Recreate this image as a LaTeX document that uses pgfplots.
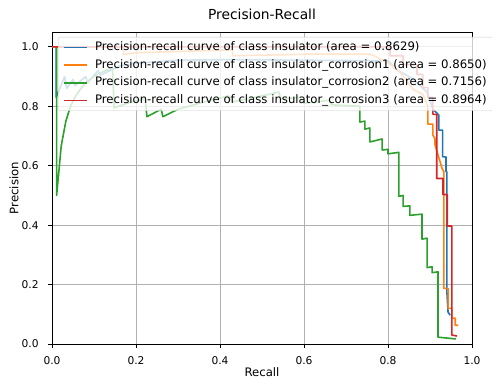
\documentclass[border=0pt]{standalone}
\usepackage{pgfplots}
\pgfplotsset{compat=1.18}
\usepackage{fontspec}
\setmainfont{DejaVu Sans}
\definecolor{mblue}{HTML}{1F77B4}
\definecolor{morange}{HTML}{FF7F0E}
\definecolor{mgreen}{HTML}{2CA02C}
\definecolor{mred}{HTML}{D62728}
\definecolor{mgrid}{HTML}{B0B0B0}
\definecolor{mframe}{HTML}{CCCCCC}
\begin{document}
\begin{tikzpicture}
\begin{axis}[
  set layers,
  scale only axis, width=420pt, height=312pt,
  xmin=0, xmax=1, ymin=0, ymax=1.05,
  xtick={0,0.2,0.4,0.6,0.8,1.0}, ytick={0,0.2,0.4,0.6,0.8,1.0},
  xticklabels={0.0,0.2,0.4,0.6,0.8,1.0}, yticklabels={0.0,0.2,0.4,0.6,0.8,1.0},
  scaled ticks=false,
  tick align=outside, tick pos=left, major tick length=3.7pt,
  every tick/.style={black, line width=0.8pt},
  axis line style={line width=0.8pt},
  grid=major, major grid style={mgrid, line width=0.8pt},
  ticklabel style={font=\fontsize{10.67}{12.8}\selectfont},
  xticklabel style={inner sep=0pt, anchor=center, yshift=-13pt},
  yticklabel style={inner sep=0pt, anchor=east, xshift=-9.5pt},
  title={Precision-Recall},
  title style={font=\fontsize{13.8}{16}\selectfont, at={(axis description cs:0.5,1)}, anchor=center, yshift=12pt, inner sep=0pt},
  xlabel={Recall},
  xlabel style={font=\fontsize{11.7}{14}\selectfont, at={(axis description cs:0.5,0)}, anchor=center, yshift=-28pt, inner sep=0pt},
  ylabel={Precision},
  ylabel style={font=\fontsize{11.7}{14}\selectfont, at={(axis description cs:-0.0905,0.5)}, anchor=center, inner sep=0pt},
  legend cell align=left,
  legend image code/.code={\draw[#1] (0pt,0pt) -- (23.5pt,0pt);},
  legend style={at={(axis description cs:0,1)}, anchor=north west, xshift=6pt, yshift=-5pt,
    fill=white, fill opacity=0.8, text opacity=1, draw=mframe, rounded corners=2pt,
    font=\fontsize{11.7}{14}\selectfont, row sep=6.7pt, inner xsep=4.7pt, inner ysep=4.7pt,
    nodes={text height=8.5pt, text depth=2.5pt, inner ysep=0pt},
    /tikz/every odd column/.append style={column sep=5pt}},
]
\addplot[mblue, line width=1.6pt, line join=round] coordinates {
(0.01,1.0)(0.01,0.83)(0.03,0.90)(0.035,0.86)(0.05,0.89)(0.055,0.87)(0.08,0.90)(0.085,0.88)
(0.11,0.92)(0.115,0.905)(0.16,0.935)(0.20,0.945)(0.30,0.955)(0.42,0.957)(0.60,0.955)(0.80,0.953)
(0.821,0.923)(0.85,0.90)(0.869,0.88)(0.893,0.847)(0.907,0.79)(0.921,0.77)(0.921,0.72)
(0.93,0.72)(0.93,0.63)(0.938,0.63)(0.938,0.58)(0.94,0.58)(0.94,0.18)(0.943,0.107)(0.948,0.097)
};
\addlegendentry{Precision-recall curve of class insulator (area = 0.8629)}
\addplot[morange, line width=1.6pt, line join=round] coordinates {
(0.0,1.0)(0.17,1.0)(0.17,0.975)(0.2,0.98)(0.43,0.99)(0.43,0.97)(0.6,0.975)(0.76,0.975)
(0.78,0.96)(0.80,0.945)(0.829,0.913)(0.86,0.857)(0.883,0.84)(0.895,0.80)(0.895,0.74)
(0.907,0.74)(0.907,0.703)(0.912,0.69)(0.912,0.67)(0.919,0.637)(0.929,0.59)(0.933,0.58)
(0.933,0.187)(0.943,0.187)(0.943,0.12)(0.952,0.12)(0.952,0.087)(0.96,0.087)(0.96,0.063)(0.967,0.063)
};
\addlegendentry{Precision-recall curve of class insulator\_corrosion1 (area = 0.8650)}
\addplot[mgreen, line width=1.6pt, line join=round] coordinates {
(0.011,1.0)(0.011,0.5)(0.022,0.667)(0.033,0.75)(0.044,0.8)(0.056,0.833)(0.067,0.857)
(0.078,0.875)(0.089,0.889)(0.1,0.9)(0.111,0.909)(0.122,0.917)(0.133,0.923)(0.144,0.929)
(0.148,0.795)(0.19,0.815)(0.222,0.825)(0.226,0.765)(0.26,0.79)(0.264,0.765)(0.30,0.79)
(0.35,0.81)(0.42,0.835)(0.43,0.815)(0.50,0.835)(0.54,0.848)(0.545,0.825)(0.59,0.83)
(0.60,0.81)(0.66,0.82)(0.665,0.805)(0.733,0.80)(0.733,0.747)(0.745,0.75)(0.745,0.723)
(0.757,0.727)(0.757,0.68)(0.786,0.69)(0.786,0.653)(0.8,0.655)(0.8,0.64)(0.826,0.645)
(0.826,0.497)(0.836,0.50)(0.836,0.463)(0.852,0.465)(0.852,0.433)(0.881,0.437)(0.881,0.353)
(0.893,0.356)(0.893,0.257)(0.905,0.26)(0.905,0.24)(0.919,0.243)(0.919,0.023)(0.962,0.017)
};
\addlegendentry{Precision-recall curve of class insulator\_corrosion2 (area = 0.7156)}
\addplot[mred, line width=1.6pt, line join=round] coordinates {
(0.0,1.0)(0.805,1.0)(0.805,0.97)(0.836,0.97)(0.836,0.94)(0.869,0.94)(0.869,0.907)
(0.883,0.907)(0.883,0.863)(0.895,0.863)(0.895,0.83)(0.907,0.83)(0.907,0.773)(0.916,0.773)
(0.916,0.557)(0.931,0.557)(0.931,0.503)(0.941,0.503)(0.941,0.397)(0.952,0.397)(0.952,0.03)(0.964,0.027)
};
\addlegendentry{Precision-recall curve of class insulator\_corrosion3 (area = 0.8964)}
\end{axis}
\pgfresetboundingbox
\path[use as bounding box] (-52pt,-34pt) rectangle (440pt,344pt);
\end{tikzpicture}
\end{document}
